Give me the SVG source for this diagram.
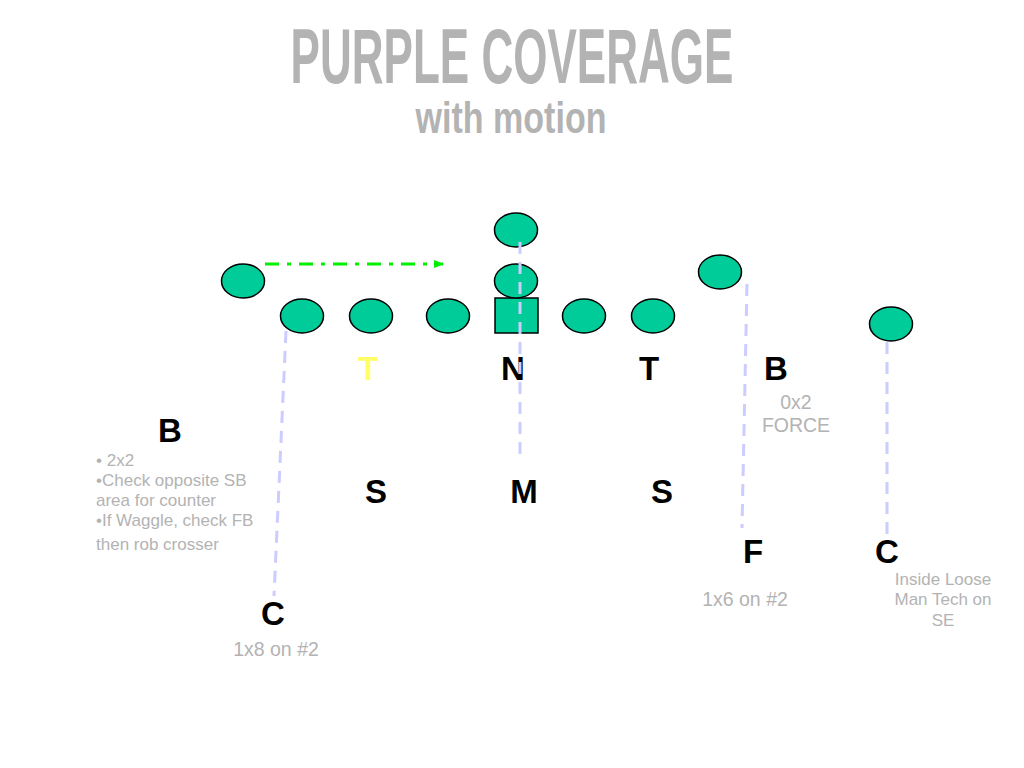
<svg xmlns="http://www.w3.org/2000/svg" width="1024" height="768" viewBox="0 0 1024 768">
<style>
.p{fill:#00cc99;stroke:#000;stroke-width:1.5}
.lbl{font-family:"Liberation Sans",Arial,sans-serif;font-weight:bold;font-size:33px;fill:#000;text-anchor:middle}
.note{font-family:"Liberation Sans",Arial,sans-serif;font-size:17px;fill:#b3b3b3}
.big{font-size:19.5px}
.mid{text-anchor:middle}
.rt{stroke:#ccccff;stroke-width:3;stroke-dasharray:12,8;fill:none}
.title{font-family:"Liberation Sans Narrow","Liberation Sans",Arial,sans-serif;font-weight:bold;fill:#b3b3b3;text-anchor:middle}
</style>
<defs>
<marker id="ah" markerWidth="10" markerHeight="8" refX="9" refY="4" orient="auto" markerUnits="userSpaceOnUse">
<path d="M0,0 L10,4 L0,8 Z" fill="#00ee00"/>
</marker>
</defs>
<rect width="1024" height="768" fill="#fff"/>
<text class="title" x="512" y="83" font-size="78" textLength="443" lengthAdjust="spacingAndGlyphs">PURPLE COVERAGE</text>
<text class="title" x="511" y="133" font-size="44" textLength="191" lengthAdjust="spacingAndGlyphs">with motion</text>

<g id="offense">
<ellipse id="o-wing" class="p" cx="243" cy="281" rx="21.5" ry="17"/>
<ellipse id="o-te" class="p" cx="302" cy="316" rx="21.5" ry="17"/>
<ellipse id="o-lt" class="p" cx="371" cy="316" rx="21.5" ry="17"/>
<ellipse id="o-lg" class="p" cx="448" cy="316" rx="21.5" ry="17"/>
<rect id="o-c" class="p" x="495" y="298" width="43" height="35"/>
<ellipse id="o-qb" class="p" cx="516" cy="281" rx="21.5" ry="17"/>
<ellipse id="o-fb" class="p" cx="516" cy="230" rx="21.5" ry="17"/>
<ellipse id="o-rg" class="p" cx="584" cy="316" rx="21.5" ry="17"/>
<ellipse id="o-rt" class="p" cx="653" cy="316" rx="21.5" ry="17"/>
<ellipse id="o-sb" class="p" cx="720" cy="272" rx="21.5" ry="17"/>
<ellipse id="o-se" class="p" cx="891" cy="324" rx="21.5" ry="17"/>
</g>

<g id="defense">
<text id="d-t1" class="lbl" x="368" y="380" style="fill:#ffff66">T</text>
<text id="d-n" class="lbl" x="513" y="380">N</text>
<text id="d-t2" class="lbl" x="649" y="380">T</text>
<text id="d-b2" class="lbl" x="776" y="380">B</text>
<text id="d-b1" class="lbl" x="170" y="442">B</text>
<text id="d-s1" class="lbl" x="376" y="503">S</text>
<text id="d-m" class="lbl" x="524" y="503">M</text>
<text id="d-s2" class="lbl" x="662" y="503">S</text>
<text id="d-f" class="lbl" x="753" y="563">F</text>
<text id="d-c2" class="lbl" x="887" y="563">C</text>
<text id="d-c1" class="lbl" x="273" y="625">C</text>
</g>

<g id="notes">
<text class="note" x="96" y="466">• 2x2</text>
<text class="note" x="96" y="486">•Check opposite SB</text>
<text class="note" x="96" y="506">area for counter</text>
<text class="note" x="96" y="526">•If Waggle, check FB</text>
<text class="note" x="96" y="550">then rob crosser</text>
<text class="note big mid" x="796" y="409">0x2</text>
<text class="note big mid" x="796" y="432">FORCE</text>
<text class="note big mid" x="745" y="606">1x6 on #2</text>
<text class="note big mid" x="276" y="656">1x8 on #2</text>
<text class="note mid" x="943" y="585">Inside Loose</text>
<text class="note mid" x="943" y="605">Man Tech on</text>
<text class="note mid" x="943" y="626">SE</text>
</g>

<g id="connectors">
<line x1="265" y1="264" x2="443" y2="264" stroke="#00ee00" stroke-width="3" stroke-dasharray="14,8,4,8" marker-end="url(#ah)"/>
<line class="rt" x1="286" y1="331" x2="274" y2="596"/>
<line class="rt" x1="520" y1="242" x2="520" y2="462"/>
<line class="rt" x1="747" y1="284" x2="742" y2="528"/>
<line class="rt" x1="887" y1="342" x2="887" y2="538"/>
</g>
</svg>
